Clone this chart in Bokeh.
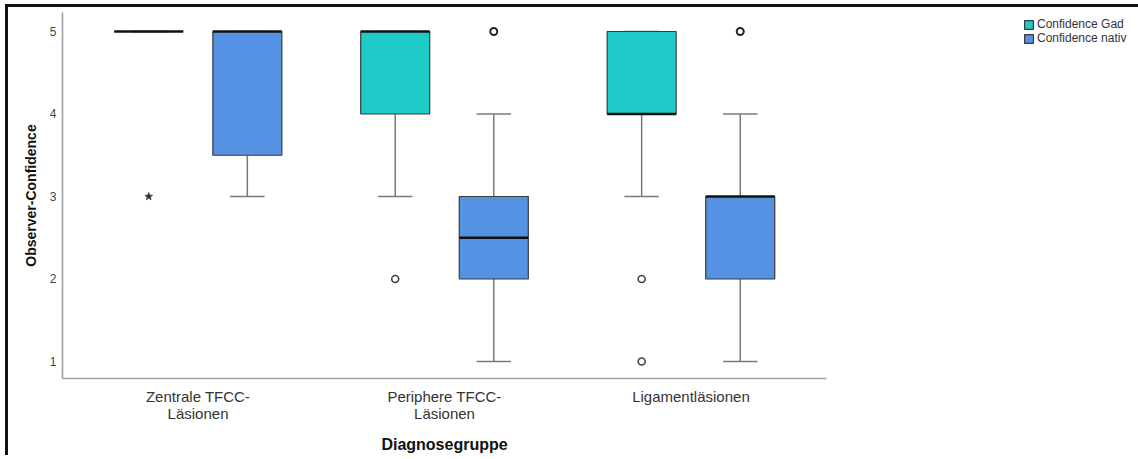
from bokeh.plotting import figure
from bokeh.models import (ColumnDataSource, FactorRange, Range1d, FixedTicker,
                          Legend, LegendItem)
from bokeh.transform import dodge
from bokeh.embed import file_html
from bokeh.resources import INLINE

# ---------------- data ----------------
categories = ["Zentrale TFCC-\nLäsionen", "Periphere TFCC-\nLäsionen", "Ligamentläsionen"]
series_names = ["Confidence Gad", "Confidence nativ"]

gad_lower = [5, 3, 3]
gad_q1 = [5, 4, 4]
gad_median = [5, 5, 4]
gad_q3 = [5, 5, 5]
gad_upper = [5, 5, 5]

nativ_lower = [3, 1, 1]
nativ_q1 = [3.5, 2, 2]
nativ_median = [5, 2.5, 3]
nativ_q3 = [5, 3, 3]
nativ_upper = [5, 4, 4]

gad_outlier_cat = ["Periphere TFCC-\nLäsionen", "Ligamentläsionen", "Ligamentläsionen"]
gad_outlier_val = [2, 2, 1]
gad_extreme_cat = ["Zentrale TFCC-\nLäsionen"]
gad_extreme_val = [3]
nativ_outlier_cat = ["Periphere TFCC-\nLäsionen", "Ligamentläsionen"]
nativ_outlier_val = [5, 5]

y_ticks = [1, 2, 3, 4, 5]

# ---------------- styling ----------------
FONT = "Liberation Sans"
GAD_COLOR = "#1fcbc9"
NATIV_COLOR = "#5592e3"
OFFSET = 0.2
BOX_W = 0.28
CAP_W = 0.14

p = figure(x_range=FactorRange(factors=categories, range_padding=0.05,
                               range_padding_units="absolute"),
           y_range=Range1d(0.794, 5.23),
           frame_width=764, frame_height=366,
           output_backend="svg", toolbar_location=None,
           min_border_left=54, min_border_right=0, min_border_top=5,
           min_border_bottom=0)
# black screenshot frame on the top and left edges
p.styles = {"margin-left": "5px", "margin-top": "4px",
            "border-left": "3px solid #111111", "border-top": "3px solid #111111"}
p.outline_line_color = None
p.xgrid.grid_line_color = None
p.ygrid.grid_line_color = None
p.background_fill_color = "white"
p.border_fill_color = "white"

renderers = {}
for name, color, off, lo, q1, med, q3, up in [
        ("Confidence Gad", GAD_COLOR, -OFFSET, gad_lower, gad_q1, gad_median, gad_q3, gad_upper),
        ("Confidence nativ", NATIV_COLOR, OFFSET, nativ_lower, nativ_q1, nativ_median, nativ_q3, nativ_upper)]:
    src = ColumnDataSource(dict(cat=categories, lower=lo, q1=q1, median=med, q3=q3, upper=up))
    xc = dodge("cat", off, range=p.x_range)
    xl = dodge("cat", off - CAP_W / 2, range=p.x_range)
    xr = dodge("cat", off + CAP_W / 2, range=p.x_range)
    xbl = dodge("cat", off - BOX_W / 2, range=p.x_range)
    xbr = dodge("cat", off + BOX_W / 2, range=p.x_range)
    # whiskers
    p.segment(x0=xc, y0="lower", x1=xc, y1="q1", source=src, line_color="#7a7a7a", line_width=1.5)
    p.segment(x0=xc, y0="q3", x1=xc, y1="upper", source=src, line_color="#7a7a7a", line_width=1.5)
    p.segment(x0=xl, y0="lower", x1=xr, y1="lower", source=src, line_color="#7a7a7a", line_width=1.5)
    p.segment(x0=xl, y0="upper", x1=xr, y1="upper", source=src, line_color="#7a7a7a", line_width=1.5)
    # box
    r = p.vbar(x=xc, width=BOX_W, bottom="q1", top="q3", source=src,
               fill_color=color, line_color="#3a3a3a", line_width=1.2)
    renderers[name] = r
    # median
    p.segment(x0=xbl, y0="median", x1=xbr, y1="median", source=src,
              line_color="#111111", line_width=2.5)

# outliers
p.scatter(x=dodge("x", -OFFSET, range=p.x_range), y="y",
          source=ColumnDataSource(dict(x=gad_outlier_cat, y=gad_outlier_val)),
          marker="circle", size=7, fill_color="white", line_color="#444444", line_width=1.6)
p.scatter(x=dodge("x", OFFSET, range=p.x_range), y="y",
          source=ColumnDataSource(dict(x=nativ_outlier_cat, y=nativ_outlier_val)),
          marker="circle", size=7, fill_color="white", line_color="#222222", line_width=2)
p.scatter(x=dodge("x", -OFFSET, range=p.x_range), y="y",
          source=ColumnDataSource(dict(x=gad_extreme_cat, y=gad_extreme_val)),
          marker="star", size=8, fill_color="#333333", line_color="#333333", line_width=0.8)

# axes
p.yaxis.ticker = FixedTicker(ticks=y_ticks)
for ax in (p.xaxis[0], p.yaxis[0]):
    ax.axis_line_color = "#a0a0a0"
    ax.axis_line_width = 1.6
    ax.major_tick_line_color = None
    ax.minor_tick_line_color = None
    ax.major_tick_out = 0
    ax.major_tick_in = 0
    ax.minor_tick_out = 0
    ax.minor_tick_in = 0
    ax.major_label_text_font = FONT
    ax.axis_label_text_font = FONT
    ax.axis_label_text_font_style = "bold"
    ax.axis_label_text_color = "#111111"

p.yaxis.major_label_text_font_size = "12px"
p.yaxis.major_label_text_color = "#444444"
p.yaxis.major_label_standoff = 6
p.yaxis.axis_label = "Observer-Confidence"
p.yaxis.axis_label_text_font_size = "14px"
p.yaxis.axis_label_standoff = 8

p.xaxis.major_label_text_font_size = "15px"
p.xaxis.major_label_text_color = "#333333"
p.xaxis.major_label_text_line_height = 1.0
p.xaxis.major_label_standoff = 9
p.xaxis.axis_label = "Diagnosegruppe"
p.xaxis.axis_label_text_font_size = "16px"
p.xaxis.axis_label_standoff = 11

legend = Legend(items=[LegendItem(label=n, renderers=[renderers[n]]) for n in series_names],
                location=(197, 333), padding=0, margin=0, spacing=0,
                glyph_width=11, glyph_height=11, label_height=14, label_standoff=3,
                label_width=100,
                label_text_font=FONT, label_text_font_size="12px", label_text_color="#333333",
                border_line_color=None, background_fill_alpha=0)
p.add_layout(legend, "right")

open("out.html", "w").write(file_html(p, INLINE))
